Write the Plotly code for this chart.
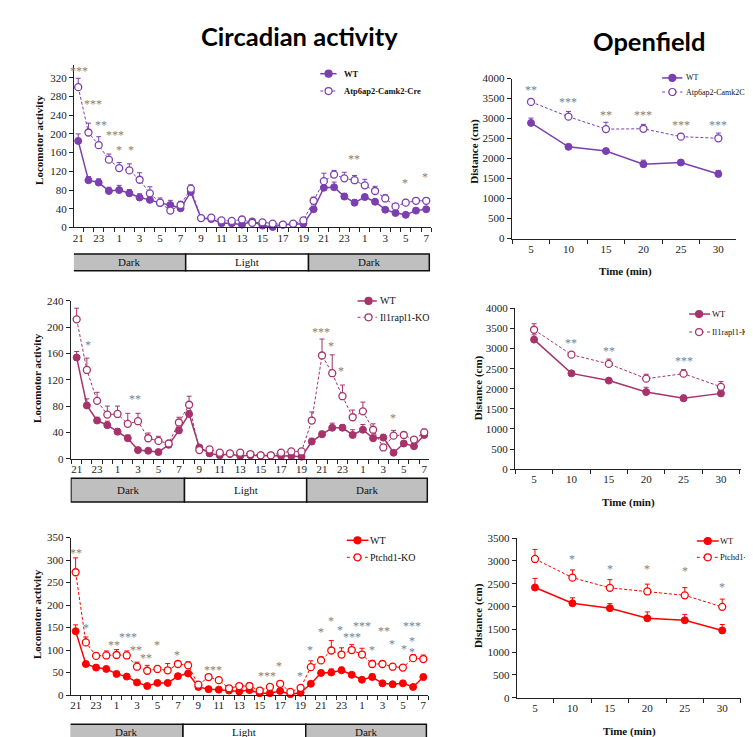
import plotly.graph_objects as go

W, H = 753, 737

# ---------------- data ----------------
hour_ticks = ["21", "23", "1", "3", "5", "7", "9", "11", "13", "15", "17", "19",
              "21", "23", "1", "3", "5", "7"]
tick_index = [0, 2, 4, 6, 8, 10, 12, 14, 16, 18, 20, 22, 24, 26, 28, 30, 32, 34]
hour_index = list(range(35))

# Atp6ap2 circadian
atp_wt = [185, 101, 96, 78, 80, 73, 64, 59, 52, 48, 41, 76, 20, 18, 9, 9, 6, 13, 4, 1, 6, 7, 8,
          39, 85, 86, 66, 53, 65, 55, 38, 31, 27, 36, 39]
atp_wt_err = [15, 8, 8, 8, 10, 8, 8, 6, 6, 10, 5, 10, 3, 3, 3, 3, 3, 3, 3, 3, 3, 3, 3,
              4, 10, 11, 7, 6, 6, 5, 4, 4, 3, 3, 3]
atp_ko = [300, 203, 176, 145, 127, 122, 102, 73, 53, 36, 48, 83, 20, 21, 15, 14, 17, 10, 11, 8, 6, 8, 15,
          57, 99, 113, 105, 101, 90, 78, 62, 45, 53, 57, 57]
atp_ko_err = [19, 20, 18, 12, 12, 14, 15, 14, 10, 6, 8, 8, 3, 3, 3, 3, 3, 3, 3, 3, 3, 3, 3,
              8, 17, 9, 13, 10, 13, 10, 8, 6, 7, 5, 5]
atp_sig = [(0.1, 340, "***"), (1.4, 271, "***"), (2.2, 225, "**"), (3.6, 204, "***"),
           (4.0, 173, "*"), (5.2, 173, "*"), (26.9, 152, "**"), (31.9, 102, "*"), (33.9, 114, "*")]

# Il1rapl1 circadian
il_wt = [154, 81, 58, 51, 41, 31, 13, 12, 10, 21, 43, 68, 17, 8, 5, 7, 4, 5, 5, 5, 4, 4, 3,
         26, 37, 47, 47, 36, 44, 31, 32, 9, 23, 19, 36]
il_wt_err = [9, 10, 5, 6, 5, 5, 3, 2, 2, 3, 4, 5, 2, 2, 2, 2, 2, 2, 2, 2, 2, 2, 2,
             5, 5, 7, 5, 8, 8, 5, 5, 2, 4, 4, 4]
il_ko = [212, 135, 88, 67, 68, 53, 57, 31, 27, 23, 55, 82, 13, 14, 9, 8, 9, 7, 5, 5, 9, 11, 11,
         58, 157, 130, 95, 63, 72, 44, 17, 35, 36, 29, 40]
il_ko_err = [17, 18, 13, 13, 12, 16, 12, 8, 7, 3, 8, 13, 3, 3, 3, 3, 3, 3, 3, 3, 3, 3, 3,
             13, 25, 28, 17, 11, 14, 9, 4, 8, 4, 4, 5]
il_sig = [(0.1, 245, "*"), (1.1, 177, "*"), (5.7, 95, "**"), (23.9, 198, "***"),
          (24.9, 176, "*"), (25.9, 138, "*"), (30.9, 67, "*")]

# Ptchd1 circadian
pt_wt = [142, 69, 61, 58, 47, 41, 28, 20, 27, 27, 42, 48, 18, 13, 12, 10, 8, 11, 4, 4, 9, 2, 5,
         25, 49, 50, 55, 45, 34, 40, 26, 24, 26, 18, 40]
pt_wt_err = [14, 6, 5, 5, 5, 4, 4, 4, 4, 4, 5, 4, 2, 2, 2, 2, 2, 2, 2, 2, 2, 2, 2,
             4, 6, 8, 7, 4, 4, 7, 4, 3, 3, 3, 6]
pt_ko = [273, 117, 87, 88, 89, 88, 63, 54, 58, 55, 69, 66, 23, 40, 33, 15, 20, 20, 10, 18, 25, 7, 16,
         62, 77, 99, 90, 100, 90, 69, 69, 63, 61, 82, 80]
pt_ko_err = [32, 12, 7, 10, 12, 10, 10, 12, 6, 15, 6, 8, 5, 5, 6, 3, 4, 7, 3, 4, 5, 3, 4,
             14, 8, 22, 15, 12, 14, 8, 6, 6, 6, 8, 9]
pt_sig = [(0.0, 322, "**"), (1.0, 155, "*"), (3.8, 118, "**"), (5.1, 135, "***"), (5.9, 107, "**"),
          (6.9, 90, "**"), (8.0, 117, "*"), (9.9, 96, "*"), (13.4, 62, "***"), (18.7, 49, "***"),
          (19.9, 72, "*"), (21.9, 49, "*"), (22.9, 106, "*"), (24.0, 147, "*"), (25.0, 171, "*"),
          (25.9, 152, "*"), (27.0, 135, "***"), (28.0, 160, "***"), (29.0, 106, "*"),
          (30.2, 150, "**"), (30.9, 120, "*"), (32.1, 109, "*"), (32.9, 160, "***"),
          (32.9, 127, "*"), (32.9, 103, "*")]

# Openfield
time_labels = ["5", "10", "15", "20", "25", "30"]
time_index = [0, 1, 2, 3, 4, 5]

of_atp_wt = [2893, 2295, 2189, 1861, 1902, 1615]
of_atp_wt_err = [120, 60, 60, 100, 60, 90]
of_atp_ko = [3418, 3049, 2738, 2746, 2549, 2508]
of_atp_ko_err = [70, 130, 170, 110, 80, 130]
of_atp_sig = [(0, 3795, "**"), (1, 3484, "***"), (2, 3156, "**"), (3, 3172, "***"),
              (4, 2926, "***"), (5, 2910, "***")]

of_il_wt = [3224, 2384, 2204, 1918, 1763, 1886]
of_il_wt_err = [120, 70, 50, 120, 80, 70]
of_il_ko = [3469, 2849, 2620, 2253, 2376, 2049]
of_il_ko_err = [150, 60, 120, 110, 100, 130]
of_il_sig = [(1, 3224, "**"), (2, 3004, "**"), (4, 2776, "***")]

of_pt_wt = [2415, 2070, 1962, 1740, 1697, 1474]
of_pt_wt_err = [200, 120, 100, 140, 130, 130]
of_pt_ko = [3041, 2631, 2408, 2329, 2243, 1991]
of_pt_ko_err = [210, 170, 180, 160, 170, 170]
of_pt_sig = [(0, 3616, "*"), (1, 3105, "*"), (2, 2890, "*"), (3, 2890, "*"), (4, 2840, "*"),
             (5, 2494, "*")]

PURPLE = "#7B3FB0"
MAROON = "#A6336B"
RED = "#FF0000"
GREY = "#808080"
SERIF = "Liberation Serif, Times New Roman, serif"
TITLE_FONT = "Lato, Open Sans, sans-serif"


def X(px):
    return px / W


def Y(py):
    return 1 - py / H


fig = go.Figure()
shapes = []
annotations = []
layout_axes = {}


def axis_names(n):
    if n == 1:
        return "xaxis", "yaxis", "x", "y"
    return f"xaxis{n}", f"yaxis{n}", f"x{n}", f"y{n}"


def add_series(n, xs, wt, wt_err, ko, ko_err, color):
    _, _, xr, yr = axis_names(n)
    fig.add_trace(go.Scatter(
        x=xs, y=wt, xaxis=xr, yaxis=yr, mode="lines+markers",
        line=dict(color=color, width=1.5),
        marker=dict(symbol="circle", size=7, color=color, line=dict(color=color, width=1)),
        error_y=dict(type="data", symmetric=False, array=wt_err, arrayminus=[0] * len(wt),
                     color=color, thickness=1, width=2.5),
        showlegend=False, cliponaxis=False))
    fig.add_trace(go.Scatter(
        x=xs, y=ko, xaxis=xr, yaxis=yr, mode="lines+markers",
        line=dict(color=color, width=1, dash="3px,2px"),
        marker=dict(symbol="circle", size=7, color="white", line=dict(color=color, width=1.3)),
        error_y=dict(type="data", symmetric=False, array=ko_err, arrayminus=[0] * len(ko),
                     color=color, thickness=1, width=2.5),
        showlegend=False, cliponaxis=False))


def add_sig(n, sig, size=12):
    _, _, xr, yr = axis_names(n)
    for (x, y, t) in sig:
        annotations.append(dict(x=x, y=y, xref=xr, yref=yr, text=t, showarrow=False,
                                font=dict(family=SERIF, size=size, color=GREY),
                                xanchor="center", yanchor="middle", yshift=-3, borderpad=0))


def set_axes(n, px_left, px_right, x_at_left, x_at_right, py_bottom, py_top, y_top, dtick,
             tickvals, ticktext, minor_vals):
    xa, ya, xr, yr = axis_names(n)
    layout_axes[xa] = dict(
        domain=[X(px_left), X(px_right)], range=[x_at_left, x_at_right], anchor=yr,
        tickmode="array", tickvals=tickvals, ticktext=ticktext, ticks="",
        showline=True, linecolor="#222", linewidth=1, showgrid=False, zeroline=False,
        tickfont=dict(family=SERIF, size=11, color="#222"),
        minor=dict(tickmode="array", tickvals=minor_vals, ticks="outside", ticklen=4,
                   tickcolor="#222", tickwidth=1, showgrid=False))
    layout_axes[ya] = dict(
        domain=[Y(py_bottom), Y(py_top)], range=[0, y_top], anchor=xr,
        tickmode="linear", tick0=0, dtick=dtick, ticks="outside", ticklen=4,
        tickcolor="#222", showline=True, linecolor="#222", linewidth=1, showgrid=False,
        zeroline=False, tickfont=dict(family=SERIF, size=11, color="#222"))


def legend(px_line0, px_line1, px_marker, py1, py2, px_text, label, color, size, bold):
    for py, lab, filled, dash, lw in [(py1, "WT", True, "solid", 1.5), (py2, label, False, "dot", 1)]:
        shapes.append(dict(type="line", xref="paper", yref="paper", x0=X(px_line0), x1=X(px_line1),
                           y0=Y(py), y1=Y(py), line=dict(color=color, width=lw, dash=dash)))
        shapes.append(dict(type="circle", xref="paper", yref="paper", xsizemode="pixel",
                           ysizemode="pixel", xanchor=X(px_marker), yanchor=Y(py),
                           x0=-3.5, x1=3.5, y0=-3.5, y1=3.5,
                           fillcolor=color if filled else "white",
                           line=dict(color=color, width=1.2)))
        txt = f"<b>{lab}</b>" if bold else lab
        annotations.append(dict(x=X(px_text - 1), y=Y(py), xref="paper", yref="paper", text=txt,
                                showarrow=False, xanchor="left", yanchor="middle", borderpad=0,
                                font=dict(family=SERIF, size=size, color="#111")))


def light_bar(n, py0, py1, py_text, x_start, x_mid1, x_mid2, x_end):
    xa, ya, xr, yr = axis_names(n)
    for a, b, fill, lab in [(x_start, x_mid1, "#BFBFBF", "Dark"), (x_mid1, x_mid2, "white", "Light"),
                            (x_mid2, x_end, "#BFBFBF", "Dark")]:
        shapes.append(dict(type="rect", xref=xr, yref="paper", x0=a, x1=b, y0=Y(py1), y1=Y(py0),
                           fillcolor=fill, line=dict(color="#111", width=1.5)))
        annotations.append(dict(x=(a + b) / 2, y=Y(py_text), xref=xr, yref="paper",
                                text=lab, showarrow=False, xanchor="center", yanchor="middle",
                                borderpad=0, font=dict(family=SERIF, size=11, color="#111")))


def ytitle(px, py, text):
    annotations.append(dict(x=X(px), y=Y(py), xref="paper", yref="paper", text=f"<b>{text}</b>",
                            textangle=-90, showarrow=False, xanchor="center", yanchor="middle",
                            font=dict(family=SERIF, size=11, color="#111")))


def xtitle(px, py, text):
    annotations.append(dict(x=X(px), y=Y(py), xref="paper", yref="paper", text=f"<b>{text}</b>",
                            showarrow=False, xanchor="center", yanchor="middle",
                            font=dict(family=SERIF, size=11, color="#111")))


circ_minor = [i - 0.5 for i in hour_index] + [34.5]
of_minor = [-0.5, 0.5, 1.5, 2.5, 3.5, 4.5, 5.5]

# ---- Panel 1: Atp6ap2 circadian
set_axes(1, 65, 423, -0.42, 34.51, 217, 52, 347, 40, tick_index, hour_ticks, circ_minor)
add_series(1, hour_index, atp_wt, atp_wt_err, atp_ko, atp_ko_err, PURPLE)
add_sig(1, atp_sig)
light_bar(1, 244, 261, 252.5, -0.61, 10.5, 22.5, 34.3)
ytitle(30, 128, "Locomotor activity")
legend(311.7, 328, 320, 60.7, 78.3, 335, "Atp6ap2-Camk2-Cre", PURPLE, 8.5, True)

# ---- Panel 2: Il1rapl1 circadian
set_axes(2, 61.7, 420.7, -0.59, 34.48, 452, 291.5, 240.3, 40, tick_index, hour_ticks, circ_minor)
add_series(2, hour_index, il_wt, il_wt_err, il_ko, il_ko_err, MAROON)
add_sig(2, il_sig)
light_bar(2, 472, 496, 484, -0.56, 10.55, 22.5, 34.3)
ytitle(28, 370, "Locomotor activity")
legend(349, 368.3, 360, 291.7, 308.3, 371.7, "Il1rapl1-KO", MAROON, 10, False)

# ---- Panel 3: Ptchd1 circadian
set_axes(3, 61.7, 420, -0.49, 34.5, 692.3, 532.3, 350, 50, tick_index, hour_ticks, circ_minor)
add_series(3, hour_index, pt_wt, pt_wt_err, pt_ko, pt_ko_err, RED)
add_sig(3, pt_sig)
light_bar(3, 722, 745, 730, -0.6, 10.5, 22.5, 34.3)
ytitle(28, 610, "Locomotor activity")
legend(338.3, 360, 349, 535, 552.3, 361.7, "Ptchd1-KO", RED, 10, False)

# ---- Panel 4: Atp6ap2 openfield
set_axes(4, 503.3, 728.3, -0.517, 5.48, 228.3, 65.7, 4000, 500, time_index, time_labels, of_minor)
add_series(4, time_index, of_atp_wt, of_atp_wt_err, of_atp_ko, of_atp_ko_err, PURPLE)
add_sig(4, of_atp_sig)
ytitle(466.7, 140, "Distance (cm)")
xtitle(617.7, 261.7, "Time (min)")
legend(654, 674.3, 664.3, 65, 79.3, 677.5, "Atp6ap2-Camk2Cre", PURPLE, 8, False)

# ---- Panel 5: Il1rapl1 openfield
set_axes(5, 506.7, 732.7, -0.51, 5.53, 462.7, 299.3, 4000, 500, time_index, time_labels, of_minor)
add_series(5, time_index, of_il_wt, of_il_wt_err, of_il_ko, of_il_ko_err, MAROON)
add_sig(5, of_il_sig)
ytitle(470, 380, "Distance (cm)")
xtitle(620, 496.7, "Time (min)")
legend(681, 702, 691, 305, 323.3, 703.5, "Il1rapl1-KO", MAROON, 8.5, False)

# ---- Panel 6: Ptchd1 openfield
set_axes(6, 508.3, 733.3, -0.49, 5.51, 695, 532.7, 3500, 500, time_index, time_labels, of_minor)
add_series(6, time_index, of_pt_wt, of_pt_wt_err, of_pt_ko, of_pt_ko_err, RED)
add_sig(6, of_pt_sig)
ytitle(470, 611.7, "Distance (cm)")
xtitle(621.7, 729, "Time (min)")
legend(688.7, 710.7, 699.7, 535.7, 552.3, 712, "Ptchd1-K", RED, 8.5, False)

# ---- Titles
annotations.append(dict(x=X(291), y=Y(22), xref="paper", yref="paper", text="<b>Circadian activity</b>",
                        showarrow=False, xanchor="center", yanchor="middle",
                        font=dict(family=TITLE_FONT, size=25.5, color="black")))
annotations.append(dict(x=X(641), y=Y(27), xref="paper", yref="paper", text="<b>Openfield</b>",
                        showarrow=False, xanchor="center", yanchor="middle",
                        font=dict(family=TITLE_FONT, size=25.5, color="black")))

fig.update_layout(
    width=W, height=H, margin=dict(l=0, r=0, t=0, b=0),
    paper_bgcolor="white", plot_bgcolor="white", showlegend=False,
    shapes=shapes, annotations=annotations, **layout_axes)

fig.write_html("out.html")
